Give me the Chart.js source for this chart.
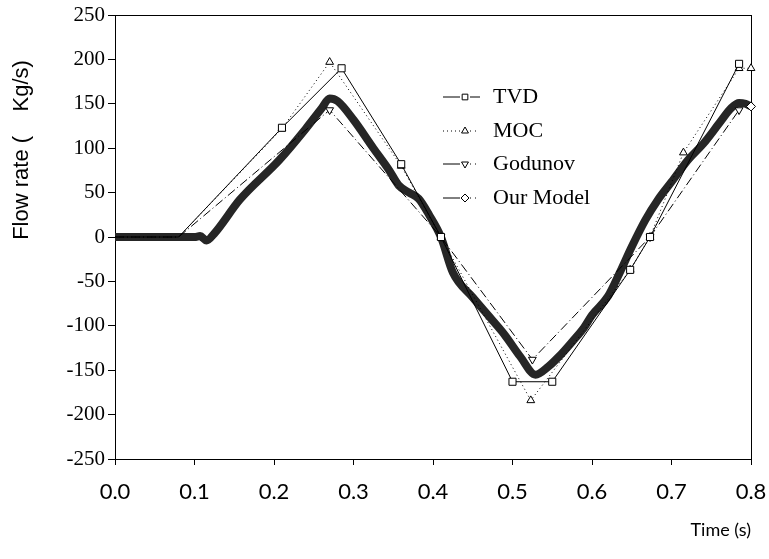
<!DOCTYPE html>
<html>
<head>
<meta charset="utf-8">
<script src="https://cdn.jsdelivr.net/npm/chart.js@4.4.1/dist/chart.umd.min.js"></script>
<style>
  html, body { margin: 0; padding: 0; background: #fff; }
  #wrap { width: 769px; height: 559px; }
</style>
</head>
<body>
<div id="wrap"><canvas id="flow-chart" width="769" height="559"></canvas></div>
<script>
// --- Values ---
const seriesNames = ['TVD', 'MOC', 'Godunov', 'Our Model'];

const tvdTime = [0, 0.08, 0.21, 0.285, 0.36, 0.41, 0.5, 0.55, 0.648, 0.673, 0.785];
const tvdFlow = [0, 0, 123, 190, 82, 0, -163, -163, -37, 0, 195];

const mocTime = [0, 0.08, 0.21, 0.27, 0.36, 0.41, 0.523, 0.648, 0.673, 0.715, 0.785, 0.8];
const mocFlow = [0, 0, 122, 197, 80, 0, -184, -37, 0, 95, 190, 190];

const godTime = [0, 0.08, 0.27, 0.41, 0.525, 0.673, 0.785];
const godFlow = [0, 0, 143, 0, -138, 0, 143];

const modelTime = [0, 0.05, 0.1, 0.107, 0.115, 0.125, 0.157, 0.207, 0.24, 0.26, 0.27, 0.28, 0.3, 0.325,
                   0.345, 0.357, 0.37, 0.382, 0.395, 0.41, 0.425, 0.45, 0.474, 0.49, 0.51, 0.529, 0.545,
                   0.558, 0.575, 0.59, 0.6, 0.62, 0.635, 0.65, 0.667, 0.683, 0.7, 0.721, 0.74, 0.76,
                   0.775, 0.785, 0.793, 0.8];
const modelFlow = [0, 0, 0, 1, -4, 4, 42, 87, 122, 145, 156, 153, 132, 100,
                   75, 58, 50, 43, 25, 0, -40, -68, -93, -110, -135, -155, -146,
                   -135, -118, -102, -88, -67, -40, -11, 19, 42, 62, 87, 105, 128,
                   145, 151, 150, 147];

const xTitle = 'Time (s)';
const yTitle = 'Flow rate (    Kg/s)';

function toPoints(xs, ys) {
    return xs.map((x, i) => ({ x: x, y: ys[i] }));
}

// hide the markers that sit on the flat start (covered in the original)
const markerSize = r => ctx => (ctx.raw && ctx.raw.x < 0.1 ? 0 : r);

// --- Legend drawn inside the plot area ---
const insideLegend = {
    id: 'insideLegend',
    afterDraw(chart) {
        const ctx = chart.ctx;
        const rows = [97, 131, 164, 198];
        const x0 = 443, xm = 465, x1 = 480, xt = 493;
        ctx.save();
        chart.data.datasets.forEach((ds, i) => {
            const y = rows[i];
            ctx.strokeStyle = '#000';
            ctx.lineWidth = 1;
            // left piece
            ctx.setLineDash(i === 1 ? [1, 3] : []);
            ctx.beginPath(); ctx.moveTo(x0, y); ctx.lineTo(xm - 5, y); ctx.stroke();
            // right piece
            ctx.setLineDash(i === 0 ? [] : [1, 4]);
            ctx.beginPath(); ctx.moveTo(xm + 5, y); ctx.lineTo(x1, y); ctx.stroke();
            ctx.setLineDash([]);
            ctx.fillStyle = '#fff';
            Chart.helpers.drawPoint(ctx, {
                pointStyle: ds.legendStyle,
                rotation: ds.pointRotation || 0,
                radius: 4,
                borderWidth: 1
            }, xm, y);
            ctx.fillStyle = '#000';
            ctx.font = '22px "Liberation Serif", "Times New Roman", serif';
            ctx.textBaseline = 'middle';
            ctx.textAlign = 'left';
            ctx.fillText(ds.label, xt, y);
        });
        ctx.restore();
    }
};

// box round the plot + rotated y title placed like the original
const frameAndTitle = {
    id: 'frameAndTitle',
    beforeDatasetsDraw(chart) {
        const a = chart.chartArea;
        const ctx = chart.ctx;
        ctx.save();
        ctx.strokeStyle = '#000';
        ctx.lineWidth = 1;
        ctx.strokeRect(a.left + 0.5, a.top + 0.5, a.right - a.left, a.bottom - a.top);
        ctx.restore();
    },
    afterDraw(chart) {
        const ctx = chart.ctx;
        ctx.save();
        ctx.translate(22, 150);
        ctx.rotate(-Math.PI / 2);
        ctx.font = '22px "Liberation Sans", Arial, sans-serif';
        ctx.fillStyle = '#000';
        ctx.textAlign = 'center';
        ctx.textBaseline = 'middle';
        ctx.fillText(yTitle, 0, 0);
        ctx.restore();
    }
};

const ctx = document.getElementById('flow-chart').getContext('2d');
new Chart(ctx, {
    type: 'line',
    data: {
        datasets: [
            {
                label: seriesNames[0],
                data: toPoints(tvdTime, tvdFlow),
                borderColor: '#000',
                borderWidth: 1,
                backgroundColor: '#fff',
                pointStyle: 'rect',
                legendStyle: 'rect',
                pointRadius: markerSize(5),
                pointBorderWidth: 1,
                pointBorderColor: '#000',
                pointBackgroundColor: '#fff',
                clip: false
            },
            {
                label: seriesNames[1],
                data: toPoints(mocTime, mocFlow),
                borderColor: '#000',
                borderWidth: 1,
                borderDash: [1, 3],
                pointStyle: 'triangle',
                legendStyle: 'triangle',
                pointRadius: markerSize(4.5),
                pointBorderWidth: 1,
                pointBorderColor: '#000',
                pointBackgroundColor: '#fff',
                clip: false
            },
            {
                label: seriesNames[2],
                data: toPoints(godTime, godFlow),
                borderColor: '#000',
                borderWidth: 1,
                borderDash: [9, 3, 1, 3],
                pointStyle: 'triangle',
                legendStyle: 'triangle',
                pointRotation: 180,
                pointRadius: markerSize(4.5),
                pointBorderWidth: 1,
                pointBorderColor: '#000',
                pointBackgroundColor: '#fff',
                clip: false
            },
            {
                label: seriesNames[3],
                data: toPoints(modelTime, modelFlow),
                borderColor: '#262626',
                borderWidth: 8,
                cubicInterpolationMode: 'monotone',
                pointStyle: 'rectRot',
                legendStyle: 'rectRot',
                pointRadius: c => (c.dataIndex === modelTime.length - 1 ? 4.5 : 0),
                pointBorderWidth: 1,
                pointBorderColor: '#000',
                pointBackgroundColor: '#fff',
                clip: false
            }
        ]
    },
    options: {
        responsive: false,
        animation: false,
        layout: { padding: { top: 15, right: 18, left: 0, bottom: 0 } },
        plugins: {
            legend: { display: false },
            tooltip: { enabled: false }
        },
        scales: {
            x: {
                type: 'linear',
                min: 0,
                max: 0.8,
                afterFit(scale) {
                    scale.height = 100;
                    scale.paddingLeft = 0;
                    scale.paddingRight = 0;
                },
                ticks: {
                    stepSize: 0.1,
                    color: '#000',
                    padding: 14,
                    font: { family: 'Lato, "Open Sans", sans-serif', size: 22 },
                    callback: v => v.toFixed(1)
                },
                grid: { drawOnChartArea: false, tickLength: 6, color: '#000' },
                border: { color: '#000', width: 1 },
                title: {
                    display: true,
                    text: xTitle,
                    align: 'end',
                    color: '#000',
                    font: { family: 'Lato, "Open Sans", sans-serif', size: 18 },
                    padding: { top: 0, bottom: 18 }
                }
            },
            y: {
                min: -250,
                max: 250,
                afterFit(scale) {
                    scale.width = 115;
                    scale.paddingTop = 0;
                    scale.paddingBottom = 0;
                },
                ticks: {
                    stepSize: 50,
                    color: '#000',
                    padding: 3,
                    font: { family: '"Liberation Serif", "Times New Roman", serif', size: 21 }
                },
                grid: { drawOnChartArea: false, tickLength: 7, color: '#000' },
                border: { color: '#000', width: 1 }
            }
        }
    },
    plugins: [frameAndTitle, insideLegend]
});
</script>
</body>
</html>
